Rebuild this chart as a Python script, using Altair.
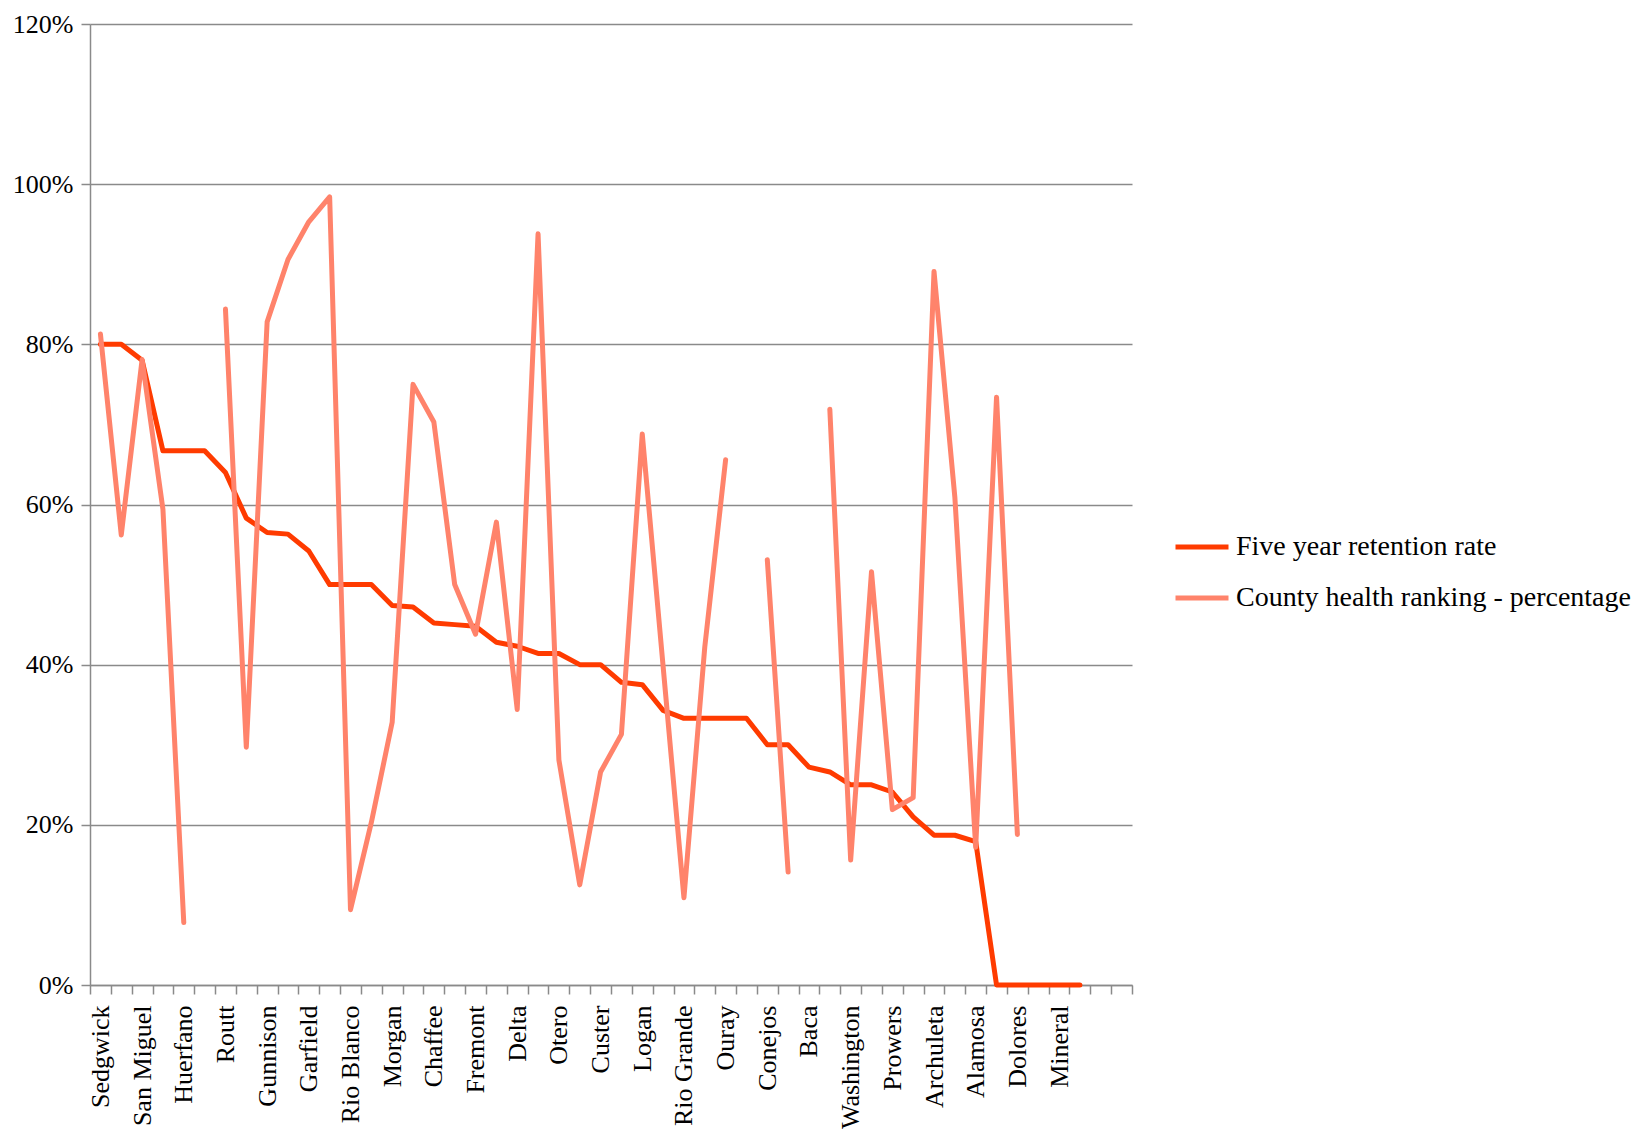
import json
import altair as alt
import pandas as pd

# Categories (x axis); only every other one carries a visible label
counties = ["Sedgwick", "Phillips", "San Miguel", "Kit Carson", "Huerfano", "Cheyenne",
            "Routt", "Lincoln", "Gunnison", "Elbert", "Garfield", "Moffat",
            "Rio Blanco", "Jackson", "Morgan", "Grand", "Chaffee", "Lake",
            "Fremont", "Park", "Delta", "Montrose", "Otero", "Yuma",
            "Custer", "Kiowa", "Logan", "Crowley", "Rio Grande", "Las Animas",
            "Ouray", "Bent", "Conejos", "Saguache", "Baca", "Costilla",
            "Washington", "Hinsdale", "Prowers", "San Juan", "Archuleta", "Teller",
            "Alamosa", "Clear Creek", "Dolores", "Gilpin", "Mineral", "Pitkin",
            "Montezuma", "Summit"]

shown_labels = ["Sedgwick", "San Miguel", "Huerfano", "Routt", "Gunnison", "Garfield",
                "Rio Blanco", "Morgan", "Chaffee", "Fremont", "Delta", "Otero",
                "Custer", "Logan", "Rio Grande", "Ouray", "Conejos", "Baca",
                "Washington", "Prowers", "Archuleta", "Alamosa", "Dolores", "Mineral"]

series_names = ["Five year retention rate", "County health ranking - percentage"]

# Five year retention rate (%)
retention = [80.0, 80.0, 78.0, 66.7, 66.7, 66.7, 64.0, 58.3, 56.5, 56.3,
             54.2, 50.0, 50.0, 50.0, 47.4, 47.2, 45.2, 45.0, 44.8, 42.8,
             42.3, 41.4, 41.4, 40.0, 40.0, 37.8, 37.5, 34.3, 33.3, 33.3,
             33.3, 33.3, 30.0, 30.0, 27.2, 26.6, 25.0, 25.0, 24.1, 21.0,
             18.7, 18.7, 17.9, 0.0, 0.0, 0.0, 0.0, 0.0, None, None]

# County health ranking - percentage (%)
health = [81.3, 56.2, 78.1, 59.4, 7.8, None, 84.4, 29.7, 82.8, 90.6,
          95.3, 98.4, 9.4, 20.3, 32.8, 75.0, 70.3, 50.0, 43.8, 57.8,
          34.4, 93.8, 28.1, 12.5, 26.6, 31.3, 68.8, 39.8, 10.9, 42.2,
          65.6, None, 53.1, 14.1, None, 71.9, 15.6, 51.6, 21.9, 23.4,
          89.1, 60.9, 17.2, 73.4, 18.8, None, None, None, None, None]

colors = ["#FF3B00", "#FF836B"]

rows = []
for name, vals in zip(series_names, [retention, health]):
    for c, v in zip(counties, vals):
        rows.append({"county": c, "series": name,
                     "value": (v / 100.0) if v is not None else None})
df = pd.DataFrame(rows)

FONT = "Liberation Serif"
GRAY = "#8a8a8a"

label_expr = ("indexof(" + json.dumps(shown_labels) +
              ", datum.value) >= 0 ? datum.value : ''")

x_enc = alt.X(
    "county:N",
    sort=counties,
    bandPosition=0.5,
    scale=alt.Scale(type="band", domain=counties, paddingInner=0, paddingOuter=0),
    axis=alt.Axis(
        title=None, tickBand="extent", labelAngle=270, labelExpr=label_expr,
        labelOverlap=False, labelPadding=11, tickSize=9, tickColor=GRAY,
        tickWidth=1.5, domainColor=GRAY, domainWidth=1.5, grid=False,
        labelFont=FONT, labelFontSize=26, labelColor="#000000", labelLimit=400,
    ),
)

y_enc = alt.Y(
    "value:Q",
    scale=alt.Scale(domain=[0, 1.2], nice=False, zero=True),
    axis=alt.Axis(
        title=None, format=".0%", values=[0, 0.2, 0.4, 0.6, 0.8, 1.0, 1.2],
        tickSize=9, tickColor=GRAY, tickWidth=1.5, labelPadding=8,
        domainColor=GRAY, domainWidth=1.5, grid=True, gridColor=GRAY,
        gridWidth=1.5, labelFont=FONT, labelFontSize=26, labelColor="#000000",
    ),
)

color_enc = alt.Color(
    "series:N",
    scale=alt.Scale(domain=series_names, range=colors),
    legend=alt.Legend(
        title=None, orient="none", legendX=1083, legendY=494,
        symbolType="stroke", symbolSize=2809, symbolStrokeWidth=5,
        labelFont=FONT, labelFontSize=28, labelColor="#000000",
        labelLimit=600, labelOffset=5, rowPadding=8, padding=0,
    ),
)

base = alt.Chart(df).encode(x=x_enc, y=y_enc, color=color_enc)

line_ret = base.transform_filter(
    alt.datum.series == series_names[0]
).mark_line(strokeWidth=5, strokeCap="round", strokeJoin="round")

line_health = base.transform_filter(
    alt.datum.series == series_names[1]
).mark_line(strokeWidth=5, strokeCap="round", strokeJoin="round")

chart = alt.layer(line_ret, line_health).properties(
    width=1042,
    height=961,
    autosize=alt.AutoSizeParams(type="none"),
    padding={"left": 82, "top": 16, "right": 510, "bottom": 146},
).configure_view(stroke=None)

chart.save("out.html", embed_options={"renderer": "svg", "actions": False})
